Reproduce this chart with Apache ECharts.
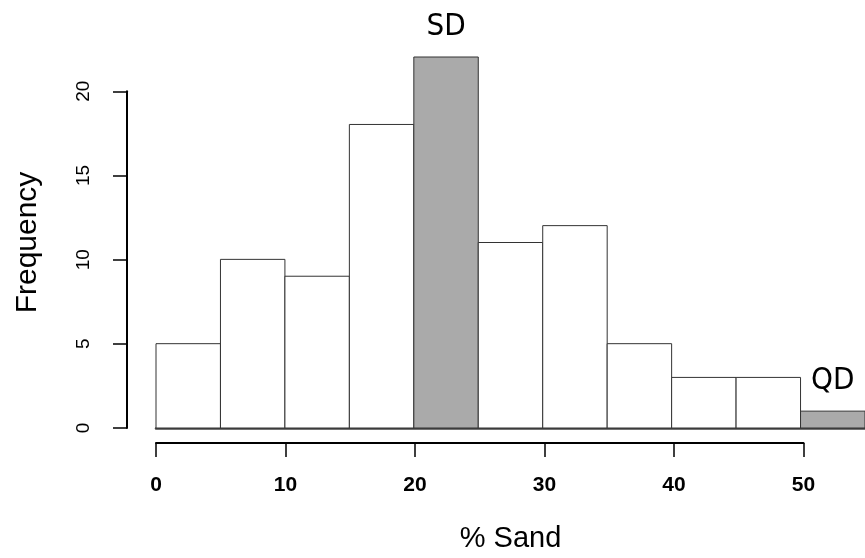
<!DOCTYPE html>
<html>
<head>
<meta charset="utf-8">
<script src="https://cdn.jsdelivr.net/npm/echarts@6/dist/echarts.min.js"></script>
<style>
  html, body { margin: 0; padding: 0; background: #fff; }
  #chartHist { width: 865px; height: 558px; }
</style>
</head>
<body>
<div id="chartHist"></div>
<script>
// histogram bins (% sand) and counts
var binStart = [0, 5, 10, 15, 20, 25, 30, 35, 40, 45, 50];
var binEnd   = [5, 10, 15, 20, 25, 30, 35, 40, 45, 50, 55];
var counts   = [5, 10, 9, 18, 22, 11, 12, 5, 3, 3, 1];
var binLabels = ["", "", "", "", "SD", "", "", "", "", "", "QD"];
var xTicks = [0, 10, 20, 30, 40, 50];
var yTicks = [0, 5, 10, 15, 20];

chartHist();

function chartHist() {
    var chart = echarts.init(document.getElementById("chartHist"));

    var data = [];
    for (var i = 0; i < counts.length; i++) {
        data.push([binStart[i], binEnd[i], counts[i]]);
    }

    function renderBar(params, api) {
        var p0 = api.coord([api.value(0), 0]);
        var p1 = api.coord([api.value(1), api.value(2)]);
        var lab = binLabels[params.dataIndex];
        var children = [{
            type: "rect",
            shape: { x: p0[0], y: p1[1], width: p1[0] - p0[0], height: p0[1] - p1[1] },
            style: { fill: lab ? "#aaaaaa" : "#ffffff", stroke: "#333333", lineWidth: 1 }
        }];
        if (lab) {
            children.push({
                type: "text",
                style: {
                    text: lab,
                    x: (p0[0] + p1[0]) / 2,
                    y: p1[1] - 15,
                    align: "center",
                    verticalAlign: "bottom",
                    fill: "#000",
                    fontSize: 31,
                    fontFamily: "'Liberation Sans Narrow', 'DejaVu Sans Condensed', 'Noto Sans', sans-serif"
                }
            });
        }
        return { type: "group", children: children };
    }

    var axisFont = "'Liberation Sans', Arial, sans-serif";

    var option = {
        animation: false,
        backgroundColor: "#fff",
        grid: [
            { left: 156, width: 712, top: 57, bottom: 130, containLabel: false },
            { left: 156, width: 647.5, top: 91.3, bottom: 130, containLabel: false }
        ],
        xAxis: [{
            type: "value", gridIndex: 0, min: 0, max: 55,
            name: "% Sand", nameLocation: "middle", nameGap: 96,
            nameTextStyle: { fontSize: 29, color: "#000", fontFamily: axisFont },
            axisLine: { show: true, onZero: true, lineStyle: { color: "#444", width: 2.5 } },
            axisTick: { show: false }, axisLabel: { show: false }, splitLine: { show: false }
        }, {
            type: "value", gridIndex: 1, min: 0, max: 50, interval: 10,
            offset: 15,
            axisLine: { show: true, onZero: false, lineStyle: { color: "#000", width: 2 } },
            axisTick: { show: true, length: 14, lineStyle: { color: "#000", width: 1.5 } },
            axisLabel: { show: true, margin: 32, fontSize: 21, fontWeight: "bold", color: "#000", fontFamily: axisFont },
            splitLine: { show: false }
        }],
        yAxis: [{
            type: "value", gridIndex: 0, min: 0, max: 22,
            name: "Frequency", nameLocation: "middle", nameGap: 113, nameRotate: 90,
            nameTextStyle: { fontSize: 30, color: "#000", fontFamily: axisFont },
            axisLine: { show: false }, axisTick: { show: false }, axisLabel: { show: false },
            splitLine: { show: false }
        }, {
            type: "value", gridIndex: 1, min: 0, max: 20, interval: 5,
            offset: 29,
            axisLine: { show: true, onZero: false, lineStyle: { color: "#000", width: 2 } },
            axisTick: { show: true, length: 14, lineStyle: { color: "#000", width: 1.5 } },
            axisLabel: { show: true, rotate: 90, margin: 34, fontSize: 19, color: "#000", fontFamily: axisFont },
            splitLine: { show: false }
        }],
        series: [{
            type: "custom",
            xAxisIndex: 0,
            yAxisIndex: 0,
            renderItem: renderBar,
            encode: { x: [0, 1], y: 2 },
            clip: false,
            data: data
        }]
    };

    chart.setOption(option);
}
</script>
</body>
</html>
